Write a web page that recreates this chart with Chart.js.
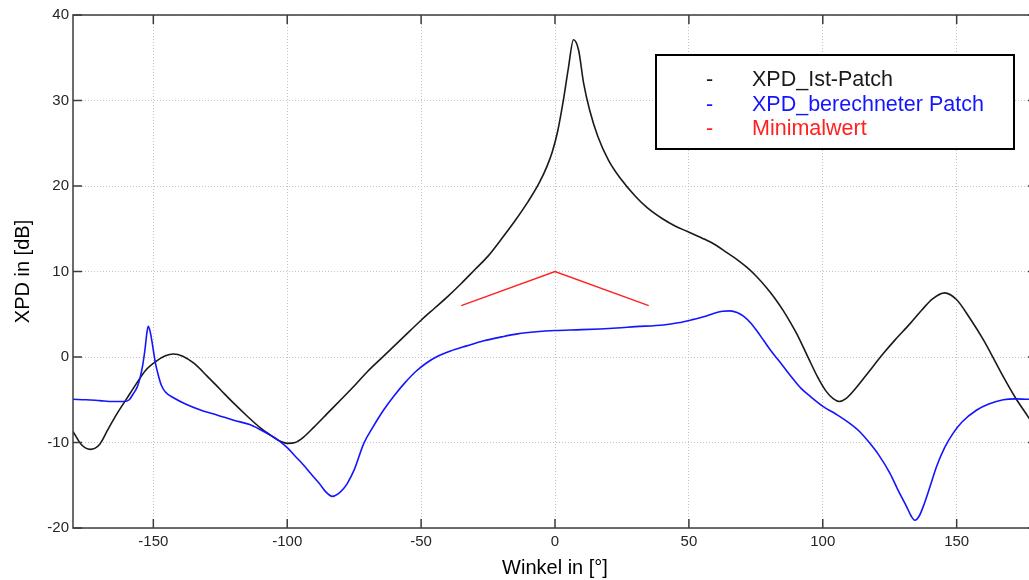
<!DOCTYPE html>
<html>
<head>
<meta charset="utf-8">
<script src="https://cdn.jsdelivr.net/npm/chart.js@4"></script>
<style>
  html, body { margin: 0; padding: 0; background: #fff; overflow: hidden; }
  #wrap { width: 1029px; height: 580px; overflow: hidden; }
</style>
</head>
<body>
<div id="wrap"><canvas id="xpdChart" width="1060" height="580"></canvas></div>
<script>
// XPD_Ist-Patch
const angleIst = [-180, -177, -173.5, -170, -167, -163.5, -160, -156.5, -153, -149, -145.5, -142.5, -139, -135, -130, -125, -120, -115, -110, -106, -103, -100, -97, -94, -90, -85, -80, -75, -70, -64, -57, -50, -45, -40, -35, -30, -25, -20, -15, -10, -6, -3, -1, 1, 3, 5, 6.9, 8.8, 10.7, 13, 16, 20, 24.4, 30, 34.3, 40, 45, 49.3, 55, 60, 64.2, 68, 71.6, 75, 79, 82, 85.3, 88, 90.3, 94.6, 98, 101, 104, 106.2, 108.5, 112.7, 117, 122.6, 127, 132.6, 137, 141, 145.5, 150, 155, 160, 164, 167.4, 172, 176.7, 180];
const xpdIst = [-8.7, -10.2, -10.8, -10.2, -8.5, -6.6, -4.9, -3.2, -1.6, -0.5, 0.15, 0.35, 0.1, -0.7, -2.2, -3.8, -5.4, -6.9, -8.3, -9.2, -9.8, -10.1, -10.0, -9.4, -8.2, -6.6, -5.0, -3.4, -1.7, 0.1, 2.2, 4.3, 5.7, 7.1, 8.6, 10.2, 11.8, 13.8, 15.9, 18.2, 20.3, 22.3, 24.0, 26.4, 29.8, 33.8, 37.1, 35.9, 32, 28.8, 25.8, 23.0, 20.9, 18.8, 17.5, 16.2, 15.3, 14.7, 13.9, 13.1, 12.2, 11.4, 10.5, 9.5, 8.1, 6.9, 5.4, 4.0, 2.7, -0.1, -2.3, -3.9, -4.9, -5.2, -4.9, -3.5, -1.8, 0.4, 2.0, 3.9, 5.5, 6.8, 7.5, 6.7, 4.5, 2.0, -0.3, -2.3, -4.8, -7.0, -8.6];

// XPD_berechneter Patch
const angleBer = [-180, -175, -170, -165, -161, -159, -157.5, -156, -155, -154, -153.5, -153, -152.5, -151.9, -151.2, -150.4, -149.5, -149.1, -148, -147, -145.5, -142.3, -138, -132.4, -126, -120, -114, -110, -106, -103, -100, -97, -94, -91.3, -88, -85.5, -83.2, -81, -79, -77.6, -75, -71.4, -68, -64, -60, -56, -52, -48, -44, -39, -33, -26.6, -20, -14, -7, 0, 10, 23.1, 30, 40.5, 46, 51.7, 55.5, 59.2, 62.5, 65.4, 68, 70.5, 73, 75.5, 78, 80.5, 83, 86, 89, 92, 95.3, 100.2, 105, 110.2, 114, 117.6, 121, 125.1, 128, 131.3, 133, 134.4, 136, 137.5, 140, 142.5, 145.5, 148.7, 152, 157.5, 162, 167.4, 172, 177, 180];
const xpdBer = [-4.95, -5.0, -5.1, -5.2, -5.2, -5.0, -4.3, -3.5, -2.5, -1.0, 0, 1.2, 2.6, 3.6, 3.0, 1.6, -0.2, -0.9, -2.3, -3.3, -4.1, -4.8, -5.5, -6.2, -6.8, -7.4, -7.9, -8.5, -9.2, -9.8, -10.6, -11.6, -12.6, -13.6, -14.8, -15.8, -16.3, -16.0, -15.4, -14.8, -13.2, -10.1, -8.2, -6.2, -4.5, -3.0, -1.7, -0.7, 0.05, 0.7, 1.3, 1.9, 2.35, 2.7, 2.95, 3.1, 3.2, 3.4, 3.55, 3.75, 4.0, 4.4, 4.7, 5.1, 5.35, 5.4, 5.2, 4.75, 4.0, 3.0, 1.9, 0.8, -0.2, -1.4, -2.6, -3.7, -4.6, -5.8, -6.7, -7.8, -8.8, -10.1, -11.5, -13.6, -15.5, -17.5, -18.6, -19.1, -18.6, -17.5, -15.2, -12.8, -10.6, -8.9, -7.6, -6.2, -5.5, -5.0, -4.9, -4.95, -4.95];

// Minimalwert
const angleMin = [-35, 0, 35];
const xpdMin = [6, 10, 6];

const seriesLabels = ['XPD_Ist-Patch', 'XPD_berechneter Patch', 'Minimalwert'];
const seriesColors = ['#1a1a1a', '#1414ff', '#ff2020'];

const xTicks = [-150, -100, -50, 0, 50, 100, 150];
const yTicks = [-20, -10, 0, 10, 20, 30, 40];

const toPoints = (xs, ys) => xs.map((x, i) => ({ x: x, y: ys[i] }));

// axes box + inside tick marks (matlab style)
const boxPlugin = {
  id: 'box',
  afterDatasetsDraw(chart) {
    const { ctx, chartArea: a, scales: { x, y } } = chart;
    ctx.save();
    ctx.strokeStyle = '#3c3c3c';
    ctx.lineWidth = 1.5;
    ctx.strokeRect(a.left, a.top, a.right - a.left, a.bottom - a.top);
    ctx.beginPath();
    xTicks.forEach(v => {
      const px = x.getPixelForValue(v);
      ctx.moveTo(px, a.bottom); ctx.lineTo(px, a.bottom - 9);
      ctx.moveTo(px, a.top); ctx.lineTo(px, a.top + 9);
    });
    yTicks.forEach(v => {
      const py = y.getPixelForValue(v);
      ctx.moveTo(a.left, py); ctx.lineTo(a.left + 9, py);
      ctx.moveTo(a.right, py); ctx.lineTo(a.right - 9, py);
    });
    ctx.stroke();
    ctx.restore();
  }
};

// legend box in the upper right
const legendPlugin = {
  id: 'boxLegend',
  afterDraw(chart) {
    const ctx = chart.ctx;
    const bx = 656, by = 55, bw = 358, bh = 94;
    ctx.save();
    ctx.fillStyle = '#fff';
    ctx.fillRect(bx, by, bw, bh);
    ctx.strokeStyle = '#000';
    ctx.lineWidth = 2;
    ctx.strokeRect(bx, by, bw, bh);
    ctx.font = '21.5px "Liberation Sans", Arial, sans-serif';
    ctx.textBaseline = 'alphabetic';
    chart.data.datasets.forEach((ds, i) => {
      const base = 86 + i * 24.5;
      ctx.fillStyle = ds.borderColor;
      ctx.fillText('-', 706, base);
      ctx.fillText(ds.label, 752, base);
    });
    ctx.restore();
  }
};

const ctx = document.getElementById('xpdChart').getContext('2d');
new Chart(ctx, {
  type: 'line',
  data: {
    datasets: [
      { label: seriesLabels[0], data: toPoints(angleIst, xpdIst), borderColor: seriesColors[0], borderWidth: 1.6, order: 3 },
      { label: seriesLabels[1], data: toPoints(angleBer, xpdBer), borderColor: seriesColors[1], borderWidth: 1.6, order: 2 },
      { label: seriesLabels[2], data: toPoints(angleMin, xpdMin), borderColor: seriesColors[2], borderWidth: 1.4, order: 1, cubicInterpolationMode: 'default', tension: 0 }
    ]
  },
  options: {
    responsive: false,
    animation: false,
    devicePixelRatio: 1,
    elements: {
      point: { radius: 0 },
      line: { cubicInterpolationMode: 'monotone', fill: false }
    },
    layout: { padding: { left: 0, right: 23, top: 15, bottom: 0 } },
    plugins: {
      legend: { display: false },
      tooltip: { enabled: false }
    },
    scales: {
      x: {
        type: 'linear',
        min: -180,
        max: 180,
        afterBuildTicks: s => { s.ticks = xTicks.map(v => ({ value: v })); },
        afterFit: s => { s.height = 52; },
        grid: { color: '#c4c4c4', lineWidth: 1, drawTicks: false },
        border: { display: false, dash: [1, 2] },
        ticks: {
          padding: 5,
          color: '#262626',
          font: { family: '"Liberation Sans", Arial, sans-serif', size: 15 },
          maxRotation: 0
        },
        title: {
          display: true,
          text: 'Winkel in [°]',
          color: '#000',
          font: { family: '"Liberation Sans", Arial, sans-serif', size: 20 },
          padding: { top: 0, bottom: 0 }
        }
      },
      y: {
        min: -20,
        max: 40,
        afterBuildTicks: s => { s.ticks = yTicks.map(v => ({ value: v })); },
        afterFit: s => { s.width = 73; },
        grid: { color: '#c4c4c4', lineWidth: 1, drawTicks: false },
        border: { display: false, dash: [1, 2] },
        ticks: {
          padding: 4,
          color: '#262626',
          font: { family: '"Liberation Sans", Arial, sans-serif', size: 15 }
        },
        title: {
          display: true,
          text: 'XPD in [dB]',
          color: '#000',
          font: { family: '"Liberation Sans", Arial, sans-serif', size: 20 },
          padding: { top: 11, bottom: 0 }
        }
      }
    }
  },
  plugins: [boxPlugin, legendPlugin]
});
</script>
</body>
</html>
